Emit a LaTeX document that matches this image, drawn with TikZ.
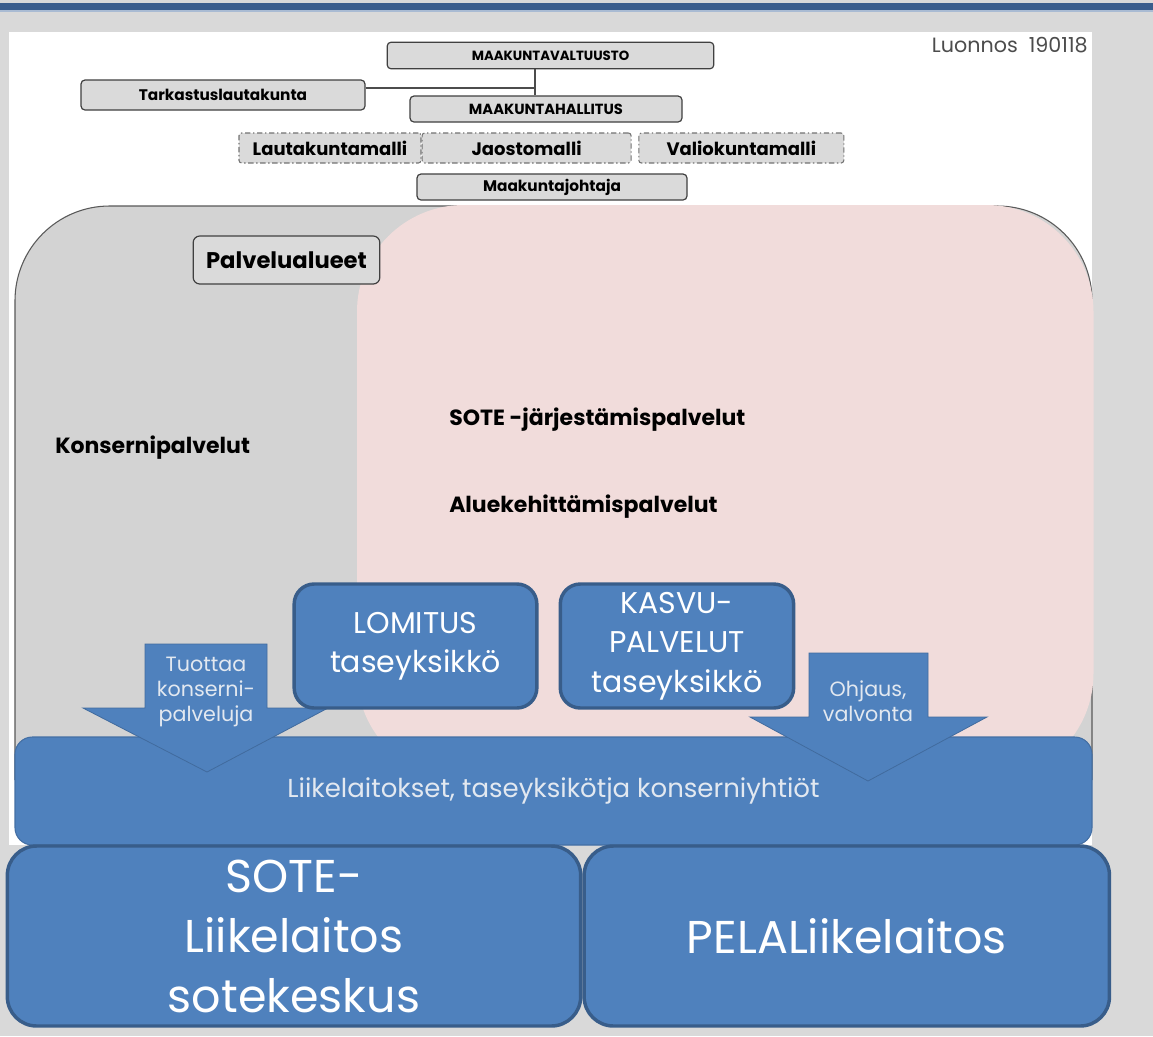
\documentclass[tikz,border=0pt]{standalone}
\usepackage{fontspec}
\setmainfont{Poppins}
\usetikzlibrary{positioning}

\definecolor{bluefill}{HTML}{4F81BD}
\definecolor{blueedge}{HTML}{385D8A}
\definecolor{bandblue}{HTML}{3A5D8C}
\definecolor{bandline}{HTML}{A9BBD3}
\definecolor{bggrey}{HTML}{D9D9D9}
\definecolor{boxgrey}{HTML}{DADADA}
\definecolor{regiongrey}{HTML}{D3D3D3}
\definecolor{regionpink}{HTML}{F1DCDB}
\definecolor{paletext}{HTML}{E2E8F0}

\begin{document}
\begin{tikzpicture}[x=0.75pt,y=-0.75pt,
  orgbox/.style={draw=black!75, fill=boxgrey, line width=0.9pt, rounded corners=3pt,
    inner sep=0pt, font=\bfseries\fontsize{10}{12}\selectfont},
  orgbig/.style={orgbox, font=\bfseries\fontsize{11.5}{13}\selectfont},
  modelbox/.style={draw=black!55, fill=boxgrey, line width=0.8pt, rounded corners=2pt,
    dash pattern=on 4pt off 2pt on 1pt off 2pt, inner sep=0pt,
    minimum height=22.5pt, font=\bfseries\fontsize{13.5}{15}\selectfont},
  areabox/.style={orgbox, rounded corners=5pt, font=\bfseries\fontsize{17}{20}\selectfont},
  regiontext/.style={anchor=west, inner sep=0pt, font=\bfseries\fontsize{16.5}{19}\selectfont},
  unitbox/.style={draw=blueedge, fill=bluefill, line width=2.6pt, rounded corners=15pt,
    text=white, align=center, inner sep=2pt, font=\fontsize{22.5}{29.5}\selectfont},
  liikebox/.style={unitbox, rounded corners=22pt, font=\fontsize{34.5}{45}\selectfont},
  bigbox/.style={draw=blueedge!50!bluefill, fill=bluefill, line width=0.8pt, rounded corners=13pt,
    text=paletext, font=\fontsize{19.5}{22}\selectfont},
  blockarrow/.style={fill=bluefill, draw=blueedge!60!bluefill, line width=0.6pt},
  arrowtext/.style={text=paletext, align=center, inner sep=0pt, font=\fontsize{15.5}{19}\selectfont},
  link/.style={draw=black!70, line width=2.2pt}]

% background, band and panel
\useasboundingbox[fill=bggrey] (0,0) rectangle (1153,1036);
\fill[bandblue] (0,3) rectangle (1153,10);
\fill[bandline] (0,10) rectangle (1153,11.5);
\fill[white] (9,32) rectangle (1092,845);

% service areas
\filldraw[fill=regiongrey, draw=black!65, line width=0.8pt, rounded corners=71pt]
  (15,780) -- (15,206) -- (1092,206) -- (1092,780);
\fill[regionpink, rounded corners=80pt] (357,780) -- (357,205) -- (1093.5,205) -- (1093.5,780) -- cycle;

% top organisation
\node[orgbox, minimum width=245pt, minimum height=20pt] (valtuusto) at (550.5,55.5) {MAAKUNTAVALTUUSTO};
\node[orgbig, minimum width=213pt, minimum height=22.5pt] (tarkastus) at (223,95) {Tarkastuslautakunta};
\node[orgbox, minimum width=204pt, minimum height=19.5pt, font=\bfseries\fontsize{11}{12}\selectfont] (hallitus) at (546,109) {MAAKUNTAHALLITUS};
\node[modelbox, minimum width=136.5pt] (lautakunta) at (330,148) {Lautakuntamalli};
\node[modelbox, minimum width=156.75pt] (jaosto) [right=0pt of lautakunta] {Jaostomalli};
\node[modelbox, minimum width=153.75pt] (valiokunta) [right=5pt of jaosto] {Valiokuntamalli};
\node[orgbig, minimum width=202.5pt, minimum height=19.5pt] (johtaja) at (552,187) {Maakuntajohtaja};
\node[anchor=east, text=black!70, inner sep=0pt, font=\fontsize{15.5}{17}\selectfont] (luonnos) at (1088,45) {Luonnos\ \ 190118};

\coordinate (j) at (535,88);
\draw[link] (tarkastus.east |- j) -- (j);
\draw[link] (j |- valtuusto.south) -- (j |- hallitus.north);

% areas
\node[areabox, minimum width=140pt, minimum height=36pt] (palvelu) at (286.5,260) {Palvelualueet};
\node[regiontext] (konserni) at (55,448) {Konsernipalvelut};
\node[regiontext] (jarjestamis) at (449,420) {SOTE -järjestämispalvelut};
\node[regiontext] (aluekehitys) at (449,507) {Aluekehittämispalvelut};

% units
\node[bigbox, minimum width=807.75pt, minimum height=81pt] (liike) at (553.5,791) {Liikelaitokset, taseyksikötja konserniyhtiöt};

\filldraw[blockarrow] (145,644) -- (267,644) -- (267,708) -- (328,708) -- (207,772) -- (83,708) -- (145,708) -- cycle;
\filldraw[blockarrow] (809,653) -- (928,653) -- (928,717) -- (987,717) -- (868,781) -- (750,717) -- (809,717) -- cycle;
\node[arrowtext] (tuottaa) at (206,692) {Tuottaa\\konserni-\\palveluja};
\node[arrowtext] (ohjaus) at (868,701.5) {Ohjaus,\\valvonta};

\node[unitbox, minimum width=182pt, minimum height=93pt] (lomitus) at (415.5,646) {LOMITUS\\taseyksikkö};
\node[unitbox, minimum width=175pt, minimum height=93pt] (kasvu) [right=15pt of lomitus] {KASVU-\\PALVELUT\\taseyksikkö};

\node[liikebox, minimum width=430pt, minimum height=135pt] (sote) at (294,936) {SOTE-\\Liikelaitos\\sotekeskus};
\node[liikebox, minimum width=394pt, minimum height=135pt] (pela) [right=0pt of sote] {PELALiikelaitos};
\end{tikzpicture}
\end{document}
